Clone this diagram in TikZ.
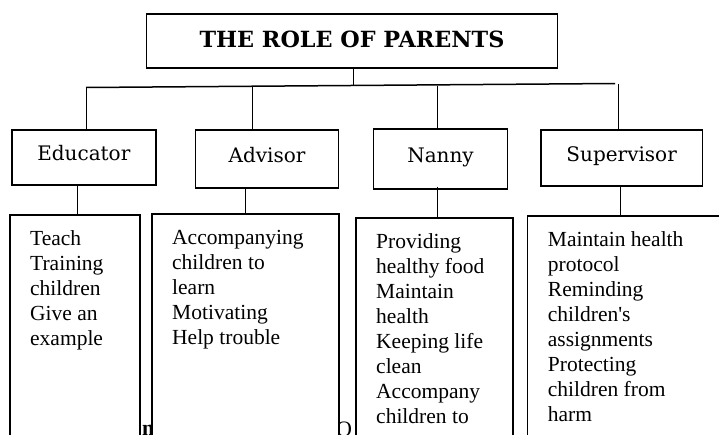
\documentclass[tikz,border=0pt]{standalone}
\usepackage{fontspec}
\setmainfont{Liberation Serif}[Ligatures=TeXOff]
\newfontfamily\headfont{DejaVu Serif}
\usetikzlibrary{calc}

\begin{document}
\begin{tikzpicture}[x=1pt,y=-1pt,
  frame/.style={draw=black, line width=1.6pt, fill=white, inner sep=0pt, anchor=north west},
  rolebox/.style={frame, font=\headfont\fontsize{20}{24}\selectfont, text height=15pt, text depth=8pt},
  bodytext/.style={anchor=north west, inner sep=0pt, align=left, font=\fontsize{21.5}{25}\selectfont},
  link/.style={draw=black, line width=1pt},
  trunk/.style={draw=black, line width=1.5pt},
  scrap/.style={anchor=base west, inner sep=0pt}]

\useasboundingbox (0,0) rectangle (719,434);

% pieces of text running below the page edge
\node[scrap, font=\bfseries\fontsize{22}{26}\selectfont] (scrapn) at (142,435) {n};
\node[scrap, font=\fontsize{22}{26}\selectfont] (scrapo) at (336,436) {O};

% heading
\node[frame, minimum width=411pt, minimum height=54pt, text height=16pt, text depth=4pt,
      font=\headfont\bfseries\fontsize{22.3}{26}\selectfont] (title) at (145.7,13.3) {THE ROLE OF PARENTS};

% the four roles
\node[rolebox, minimum width=144pt, minimum height=55pt] (edu) at (11,129) {Educator};
\node[rolebox, minimum width=143pt, minimum height=58pt] (adv) at (194.7,129) {Advisor};
\node[rolebox, minimum width=134pt, minimum height=60pt] (nan) at (372.7,128) {Nanny};
\node[rolebox, minimum width=161.7pt, minimum height=56pt] (sup) at (540,129) {Supervisor};

% tall boxes with the duties of each role
\node[frame, minimum width=130pt, minimum height=250pt] (edubody) at (9,214) {};
\node[frame, minimum width=187pt, minimum height=250pt] (advbody) at (151,213) {};
\node[frame, minimum width=157pt, minimum height=250pt] (nanbody) at (355,217) {};
\node[frame, minimum width=220pt, minimum height=250pt] (supbody) at (526.7,215) {};

\node[bodytext] (edutext) at ($(edubody.north west)+(21,16)$)
  {Teach\\Training\\children\\Give an\\example};
\node[bodytext] (advtext) at ($(advbody.north west)+(21,17)$)
  {Accompanying\\children to\\learn\\Motivating\\Help trouble};
\node[bodytext] (nantext) at ($(nanbody.north west)+(21,16)$)
  {Providing\\healthy food\\Maintain\\health\\Keeping life\\clean\\Accompany\\children to};
\node[bodytext] (suptext) at ($(supbody.north west)+(21,16)$)
  {Maintain health\\protocol\\Reminding\\children's\\assignments\\Protecting\\children from\\harm};

% branching lines from the heading
\coordinate (tl) at (86,87.5);
\coordinate (tr) at (615,83.5);
\coordinate (tj) at (353,86.2);
\coordinate (ta) at (252.3,86.8);
\coordinate (tn) at (437,85.5);
\coordinate (ts) at (618.3,84);
\draw[trunk] (tl) -- (tr);
\draw[link] (title.south -| tj) -- (tj);
\draw[link] (tl) -- (edu.north -| tl);
\draw[link] (ta) -- (adv.north -| ta);
\draw[link] (tn) -- (nan.north -| tn);
\draw[link] (ts) -- (sup.north -| ts);

% links from each role down to its duties
\coordinate (le) at (77.7,200);
\coordinate (la) at (245.7,200);
\coordinate (ln) at (437,200);
\coordinate (ls) at (620.7,200);
\draw[link] (edu.south -| le) -- (edubody.north -| le);
\draw[link] (adv.south -| la) -- (advbody.north -| la);
\draw[link] ($(nan.south -| ln)+(0,-3)$) -- (nanbody.north -| ln);
\draw[link] (sup.south -| ls) -- (supbody.north -| ls);
\end{tikzpicture}
\end{document}
